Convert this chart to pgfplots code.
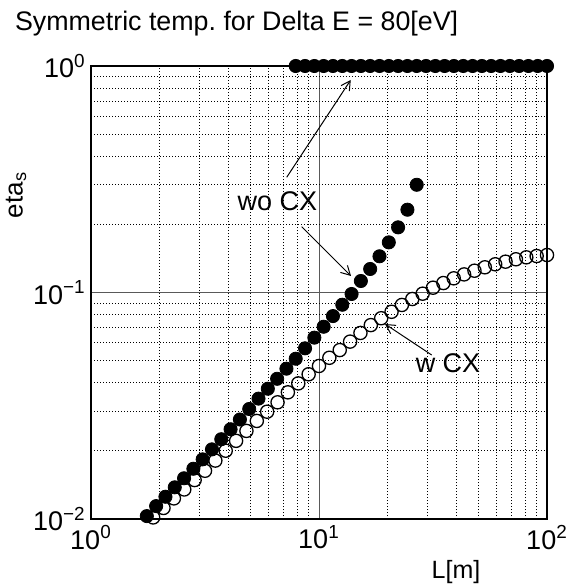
\documentclass[border=0pt]{standalone}
\usepackage{fontspec}
\setmainfont{Liberation Sans}
\usepackage{pgfplots}
\pgfplotsset{compat=1.18}
\usetikzlibrary{calc,arrows.meta}
\frenchspacing

% eta_s with charge exchange (open) and without (filled)
\pgfplotstableread{
x y
1.8738 0.01016
2.0801 0.01119
2.3101 0.01233
2.5645 0.0135
2.8480 0.01486
3.1623 0.01633
3.5112 0.01811
3.8985 0.02002
4.3288 0.02214
4.8053 0.02449
5.3367 0.0271
5.9234 0.02977
6.5793 0.03275
7.3039 0.03625
8.1113 0.0397
9.0063 0.04355
10.000 0.04738
11.101 0.0515
12.329 0.0557
13.689 0.0607
15.199 0.0663
16.877 0.0718
18.738 0.0770
20.806 0.0822
23.101 0.0881
25.650 0.0936
28.480 0.0988
31.623 0.1050
35.112 0.1101
38.986 0.1155
43.288 0.1202
48.064 0.1248
53.367 0.1292
59.255 0.1332
65.793 0.1368
73.053 0.1402
81.113 0.1430
90.063 0.1449
100.00 0.1464
}\wcx
\pgfplotstableread{
x y
1.7575 0.0103
1.9307 0.0114
2.1210 0.01254
2.3300 0.0138
2.5595 0.01513
2.8118 0.01667
3.0888 0.01834
3.3932 0.0203
3.7276 0.0225
4.0949 0.0249
4.4984 0.0275
4.9417 0.0306
5.4287 0.0340
5.9636 0.0376
6.5513 0.0416
7.1969 0.0461
7.9060 0.0510
8.6851 0.0567
9.5410 0.0632
10.481 0.0706
11.514 0.0787
12.649 0.0883
13.895 0.0985
15.264 0.1124
16.768 0.1270
18.421 0.1445
20.236 0.1665
22.230 0.194
24.421 0.232
26.827 0.299
}\wocx
\pgfplotstableread{
x y
7.9060 1
8.6851 1
9.5410 1
10.481 1
11.514 1
12.649 1
13.895 1
15.264 1
16.768 1
18.421 1
20.236 1
22.230 1
24.421 1
26.827 1
29.471 1
32.375 1
35.565 1
39.069 1
42.919 1
47.149 1
51.795 1
56.899 1
62.506 1
68.665 1
75.431 1
82.864 1
91.030 1
100.00 1
}\wocxtop

\begin{document}
\begin{tikzpicture}
\begin{axis}[
  scale only axis, width=228pt, height=226.5pt,
  xmode=log, ymode=log,
  xmin=1, xmax=100, ymin=0.01, ymax=1,
  xtick={1,10,100}, ytick={0.01,0.1,1},
  xticklabels={10\textsuperscript{0},10\textsuperscript{1},10\textsuperscript{2}},
  yticklabels={10\textsuperscript{−2},10\textsuperscript{−1},10\textsuperscript{0}},
  tick label style={font=\fontsize{13.5}{15}\selectfont},
  xticklabel style={inner sep=3pt},
  yticklabel style={inner sep=2.5pt},
  major tick length=0pt, minor tick length=0pt,
  grid=both,
  major grid style={black!65, line width=0.5pt},
  minor grid style={black, line width=0.35pt, dash pattern=on 0.6pt off 0.9pt},
  axis line style={line width=1.3pt},
  clip=false,
]
\coordinate (SW) at (rel axis cs:0,0);
\addplot[only marks, mark=o, mark size=3.3pt, mark options={line width=0.65pt, draw=black, fill=none}] table {\wcx};
\addplot[only marks, mark=*, mark size=3.3pt, mark options={draw=black, fill=black}] table {\wocx};
\addplot[only marks, mark=*, mark size=3.3pt, mark options={draw=black, fill=black}] table {\wocxtop};
\end{axis}

\node[anchor=base west, font=\fontsize{13.4}{16}\selectfont] at ($(SW)+(-41.5pt,244pt)$) {Symmetric temp. for Delta E = 80[eV]};
\node[font=\fontsize{12.5}{14}\selectfont] at ($(SW)+(182.5pt,-26.5pt)$) {L[m]};
\node[font=\fontsize{13}{15}\selectfont, rotate=90] at ($(SW)+(-37.5pt,162pt)$) {eta\textsubscript{s}};

\node[font=\fontsize{13.5}{16}\selectfont] at ($(SW)+(93.25pt,159pt)$) {wo CX};
\node[font=\fontsize{13.5}{16}\selectfont] at ($(SW)+(178.5pt,78pt)$) {w CX};
\draw[line width=0.5pt, -{Straight Barb[length=4.5pt,width=5pt]}] ($(SW)+(97.85pt,170.85pt)$) -- ($(SW)+(129.85pt,219.5pt)$);
\draw[line width=0.5pt, -{Straight Barb[length=4.5pt,width=5pt]}] ($(SW)+(105.35pt,146.15pt)$) -- ($(SW)+(130pt,121.5pt)$);
\draw[line width=0.5pt, -{Straight Barb[length=4.5pt,width=5pt]}] ($(SW)+(170.35pt,82pt)$) -- ($(SW)+(147pt,97.5pt)$);

\pgfresetboundingbox
\path ($(SW)+(-45.5pt,-34pt)$) rectangle ($(SW)+(238pt,259.5pt)$);
\end{tikzpicture}
\end{document}
